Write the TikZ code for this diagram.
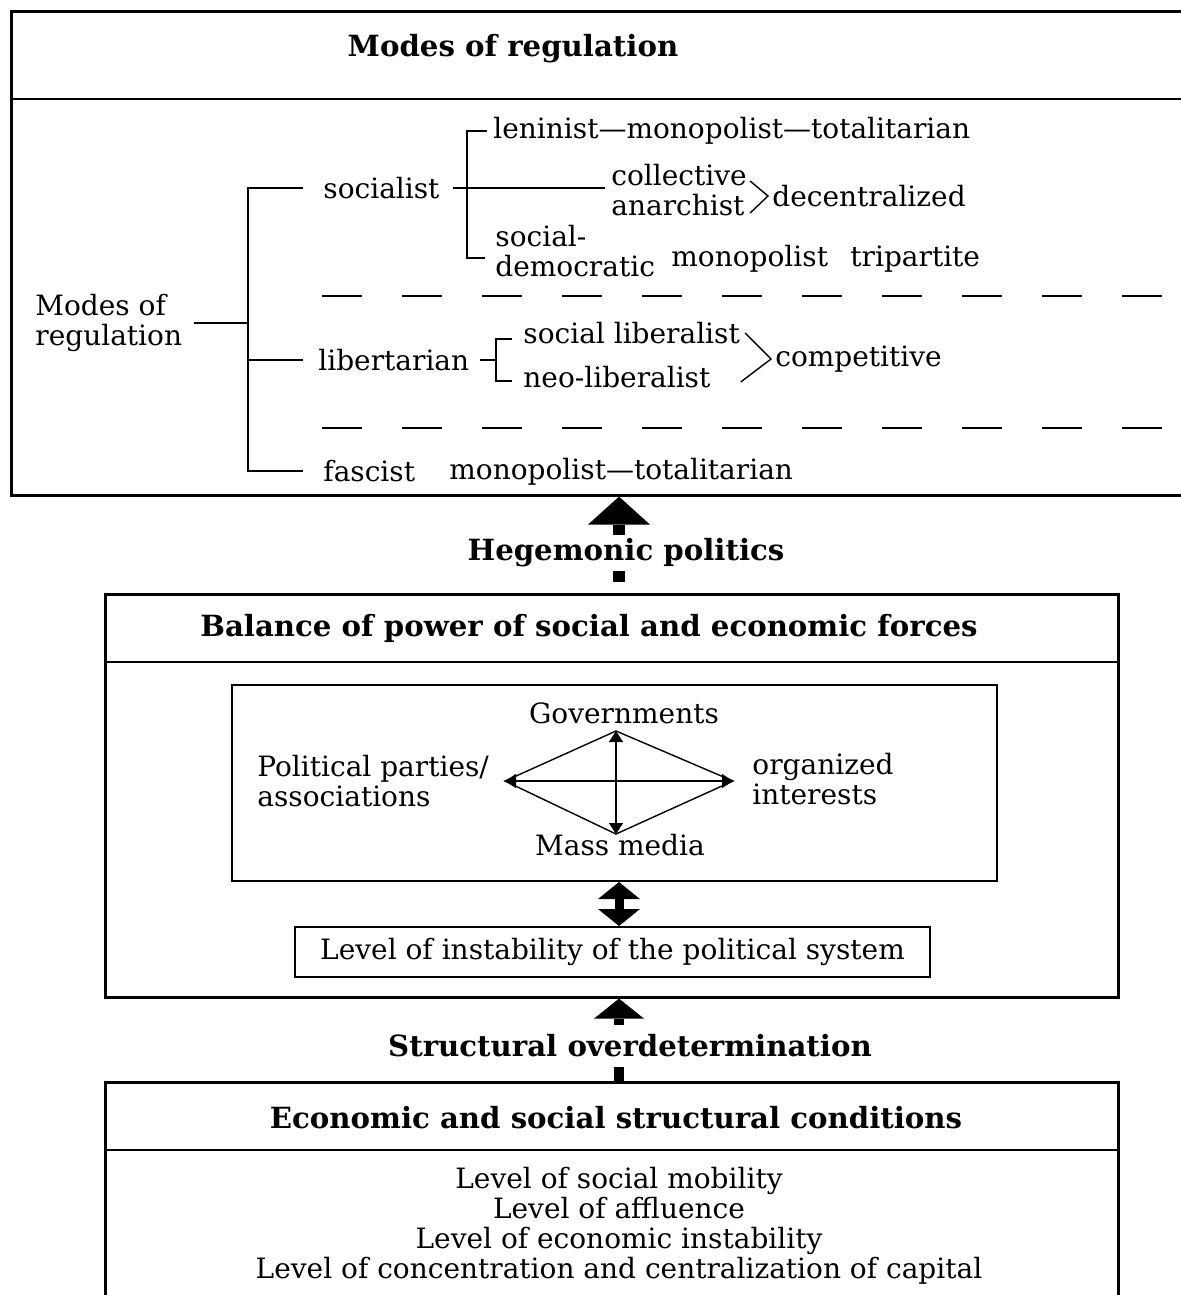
\documentclass[tikz,border=0pt]{standalone}
\usepackage{fontspec}
\setmainfont{DejaVu Serif}
\usetikzlibrary{arrows.meta}

\tikzset{
  txt/.style={font=\fontsize{14}{15}\selectfont, inner sep=0pt},
  head/.style={font=\bfseries\fontsize{14.6}{16}\selectfont, inner sep=0pt},
  frame/.style={draw, line width=1.3pt},
  tree/.style={line width=1pt},
  thinline/.style={line width=0.7pt},
  dashline/.style={line width=1.3pt, dash pattern=on 20pt off 20pt},
  fatarrow/.style={line width=6pt, -{Triangle[width=31pt,length=14pt,line width=0pt]}},
  midarrow/.style={line width=5pt, -{Triangle[width=25pt,length=10pt,line width=0pt]}},
  twoway/.style={line width=4.5pt, {Triangle[width=21pt,length=8.5pt,line width=0pt]}-{Triangle[width=21pt,length=8.5pt,line width=0pt]}},
  smallhead/.style={thinline, {Triangle[width=7pt,length=5.5pt]}-{Triangle[width=7pt,length=5.5pt]}},
}

\begin{document}
\begin{tikzpicture}[x=0.5pt,y=-0.5pt]
\useasboundingbox (0,0) rectangle (1181,1295);
\clip (0,0) rectangle (1181,1295);

% ---------- Modes of regulation ----------
\node[frame, anchor=north west, minimum width=600pt, minimum height=242pt] (regbox) at (10,10) {};
\draw[frame] ([yshift=-44.5pt]regbox.north west) -- ([yshift=-44.5pt]regbox.north east);
\node[head] (regtitle) at (513,49) {Modes of regulation};

\node[txt, anchor=west, align=left] (modes) at (35,323) {Modes of\\regulation};
\coordinate (trunk) at (248,323);

\node[txt, anchor=west] (soc) at (323,188) {socialist};
\node[txt, anchor=west] (lib) at (318,360) {libertarian};
\node[txt, anchor=west] (fas) at (323,471) {fascist};

\draw[tree] ([xshift=6pt]modes.east) -- (trunk);
\draw[tree] ([xshift=-10pt]soc.west) -| (trunk);
\draw[tree] ([xshift=-10pt]fas.west) -| (trunk);
\draw[tree] ([xshift=-7.5pt]lib.west) -- (lib.west -| trunk);

% socialist branch
\node[txt, anchor=west] (len) at (493,131) {leninist—monopolist—totalitarian};
\node[txt, anchor=west, align=left] (ca) at (611,190) {collective\\anarchist};
\node[txt, anchor=west] (dec) at (772,196) {decentralized};
\node[txt, anchor=west, align=left] (sd) at (495,251) {social-\\democratic};
\node[txt, anchor=west] (mono) at (671,259) {monopolist};
\node[txt, anchor=west] (tri) at (850,259) {tripartite};

\coordinate (sbr) at (467,188);
\coordinate (sj) at (605,188);
\coordinate (sdt) at (485,258);
\draw[tree] ([xshift=6.5pt]soc.east) -- (soc.east -| sj);
\draw[tree] ([xshift=-3pt]len.west) -| (sbr) -- (sbr |- sdt) -- (sdt);
\draw[thinline] ([xshift=1.5pt,yshift=4.5pt]ca.east) -- ([xshift=-2pt]dec.west)
  -- ([xshift=1.5pt,yshift=-11.5pt]ca.east);

\draw[dashline] (322,296) -- (1200,296);

% libertarian branch
\node[txt, anchor=west] (sl) at (523,333) {social liberalist};
\node[txt, anchor=west] (nl) at (523,377) {neo-liberalist};
\node[txt, anchor=west] (comp) at (775,359) {competitive};

\coordinate (lbr) at (496,360);
\draw[tree] ([xshift=5pt]lib.east) -- (lbr);
\draw[tree] ([xshift=-5.5pt,yshift=-3pt]sl.west) -| (lbr)
  |- ([xshift=-5.5pt,yshift=-2pt]nl.west);
\draw[thinline] ([xshift=2.5pt]sl.east) -- ([xshift=-2pt]comp.west)
  -- ([xshift=15pt,yshift=-2.5pt]nl.east);

\draw[dashline] (322,428) -- (1200,428);

% fascist branch
\node[txt, anchor=west] (mt) at (449,472) {monopolist—totalitarian};

% ---------- Balance of power ----------
\node[frame, anchor=north west, minimum width=506.5pt, minimum height=201.5pt] (balbox) at (104,593) {};
\draw[frame] ([yshift=-34.5pt]balbox.north west) -- ([yshift=-34.5pt]balbox.north east);
\node[head] (baltitle) at (589,628) {Balance of power of social and economic forces};

\node[draw, line width=1pt, anchor=north west, minimum width=382.5pt, minimum height=98pt] (actors) at (231,684) {};
\node[txt] (gov) at (624,713) {Governments};
\node[txt] (mm) at (620,845) {Mass media};
\node[txt, anchor=west, align=left] (pp) at (257,781) {Political parties/\\associations};
\node[txt, anchor=west, align=left] (oi) at (752,779) {organized\\interests};

\coordinate (dT) at (616,731);
\coordinate (dB) at (616,834);
\coordinate (dL) at (505,781);
\coordinate (dR) at (733,781);
\draw[thinline] (dT) -- (dR) -- (dB) -- (dL) -- cycle;
\draw[smallhead] (dL) -- (dR);
\draw[smallhead] (dT) -- (dB);

\node[txt, draw, line width=1pt, minimum width=317.5pt, minimum height=25pt] (instab) at (612.5,952) {Level of instability of the political system};

\coordinate (axis) at (619,0);
\draw[twoway] (actors.south -| axis) -- (instab.north -| axis);

% ---------- Economic and social structural conditions ----------
\node[frame, anchor=north west, minimum width=506.5pt, minimum height=200pt] (ecobox) at (104,1081) {};
\draw[frame] ([yshift=-34.5pt]ecobox.north west) -- ([yshift=-34.5pt]ecobox.north east);
\node[head] (ecotitle) at (616,1118) {Economic and social structural conditions};
\node[txt, align=center] (levels) at (619,1226) {Level of social mobility\\Level of affluence\\Level of economic instability\\Level of concentration and centralization of capital};

% ---------- Vertical links ----------
\coordinate (a1) at (619,582);
\draw[fatarrow] (a1) -- (a1 |- regbox.south);
\node[head, fill=white, inner xsep=3pt, inner ysep=2pt] (hegem) at (626,553) {Hegemonic politics};

\draw[midarrow] (ecobox.north -| axis) -- (balbox.south -| axis);
\node[head, fill=white, inner xsep=3pt, inner ysep=5pt] (struct) at (630,1046) {Structural overdetermination};
\end{tikzpicture}
\end{document}
